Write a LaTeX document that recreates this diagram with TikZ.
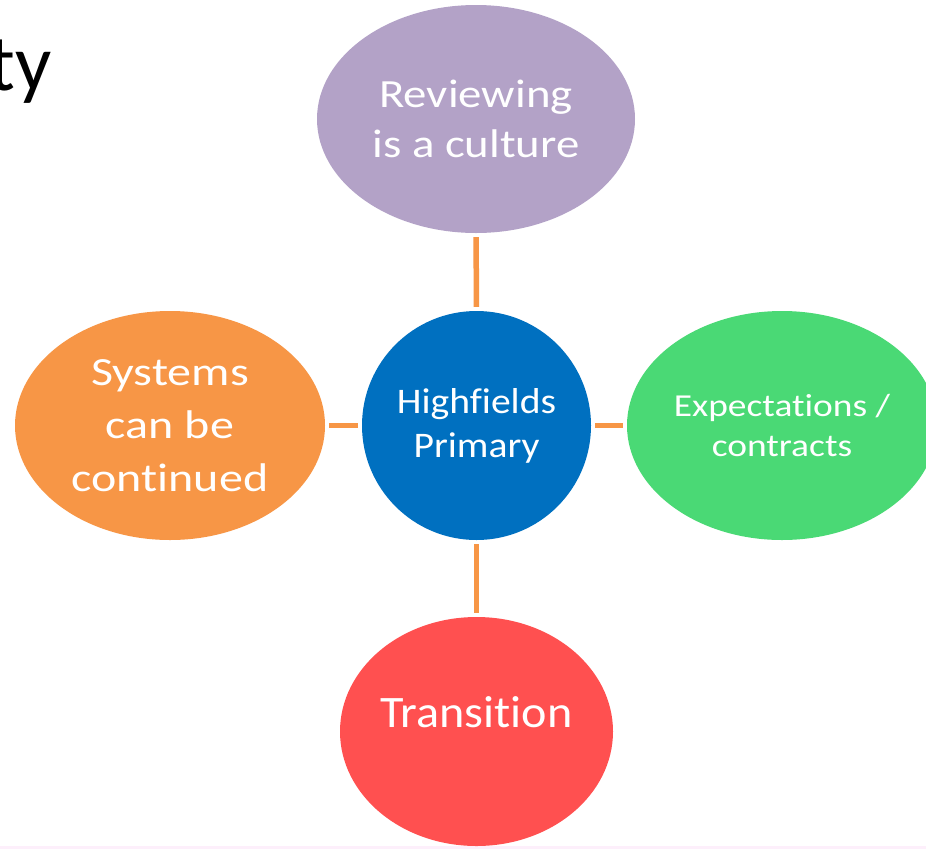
\documentclass[tikz,border=0pt]{standalone}
\usepackage{fontspec}
\setmainfont[Ligatures=NoCommon]{Carlito}
\newfontfamily\shapefont[FakeStretch=1.17, Ligatures=NoCommon]{Carlito}
\newfontfamily\widefont[FakeStretch=1.2, Ligatures=NoCommon]{Carlito}
\newfontfamily\hubfont[FakeStretch=1.1, Ligatures=NoCommon]{Carlito}
\newfontfamily\trfont[FakeStretch=1.07, Ligatures=NoCommon]{Carlito}
\usetikzlibrary{shapes.geometric}
\definecolor{cpurple}{HTML}{B3A2C7}
\definecolor{corange}{HTML}{F79646}
\definecolor{cblue}{HTML}{0070C0}
\definecolor{cgreen}{HTML}{4AD975}
\definecolor{cred}{HTML}{FF5050}
\definecolor{cline}{HTML}{F79646}
\definecolor{cpink}{HTML}{FDEFFB}
\tikzset{
  blob/.style={ellipse, inner sep=0pt, text=white, align=center},
  link/.style={draw=cline, line width=5.5pt, shorten <=4pt, shorten >=4pt},
  plain/.style={inner sep=0pt, text=white}
}
\begin{document}
\begin{tikzpicture}[x=1pt,y=-1pt]
\useasboundingbox (0,0) rectangle (926,849);
\clip (0,0) rectangle (926,849);
\fill[white] (0,0) rectangle (926,849);
\fill[cpink] (0,846) rectangle (926,849);
% title fragment
\node[inner sep=0pt, anchor=base east, font=\fontsize{80}{96}\selectfont] (title) at (52,90) {ty};
% shapes
\node[blob, fill=cpurple, minimum width=318pt, minimum height=228pt,
      font=\shapefont\fontsize{40}{50}\selectfont] (rev) at (476,119) {Reviewing\\is a culture};
\node[blob, circle, fill=cblue, minimum size=229pt,
      font=\hubfont\fontsize{36}{44}\selectfont] (hub) at (476.5,425.5) {Highfields\\Primary};
\node[blob, fill=corange, minimum width=310pt, minimum height=229pt,
      font=\widefont\fontsize{40}{53}\selectfont] (sys) at (170,425.5) {Systems\\can be\\continued};
\node[blob, fill=cgreen, minimum width=310pt, minimum height=229pt,
      font=\shapefont\fontsize{32}{40}\selectfont] (exp) at (782,425.5) {Expectations /\\contracts};
\node[blob, fill=cred, minimum width=273pt, minimum height=229pt] (tra) at (476.5,731.5) {};
\node[plain, anchor=base, font=\trfont\fontsize{45}{54}\selectfont] (tratext) at (476.5,727) {Transition};
% connectors
\draw[link] (rev) -- (hub);
\draw[link] (sys) -- (hub);
\draw[link] (hub) -- (exp);
\draw[link] (hub) -- (tra);
\end{tikzpicture}
\end{document}
